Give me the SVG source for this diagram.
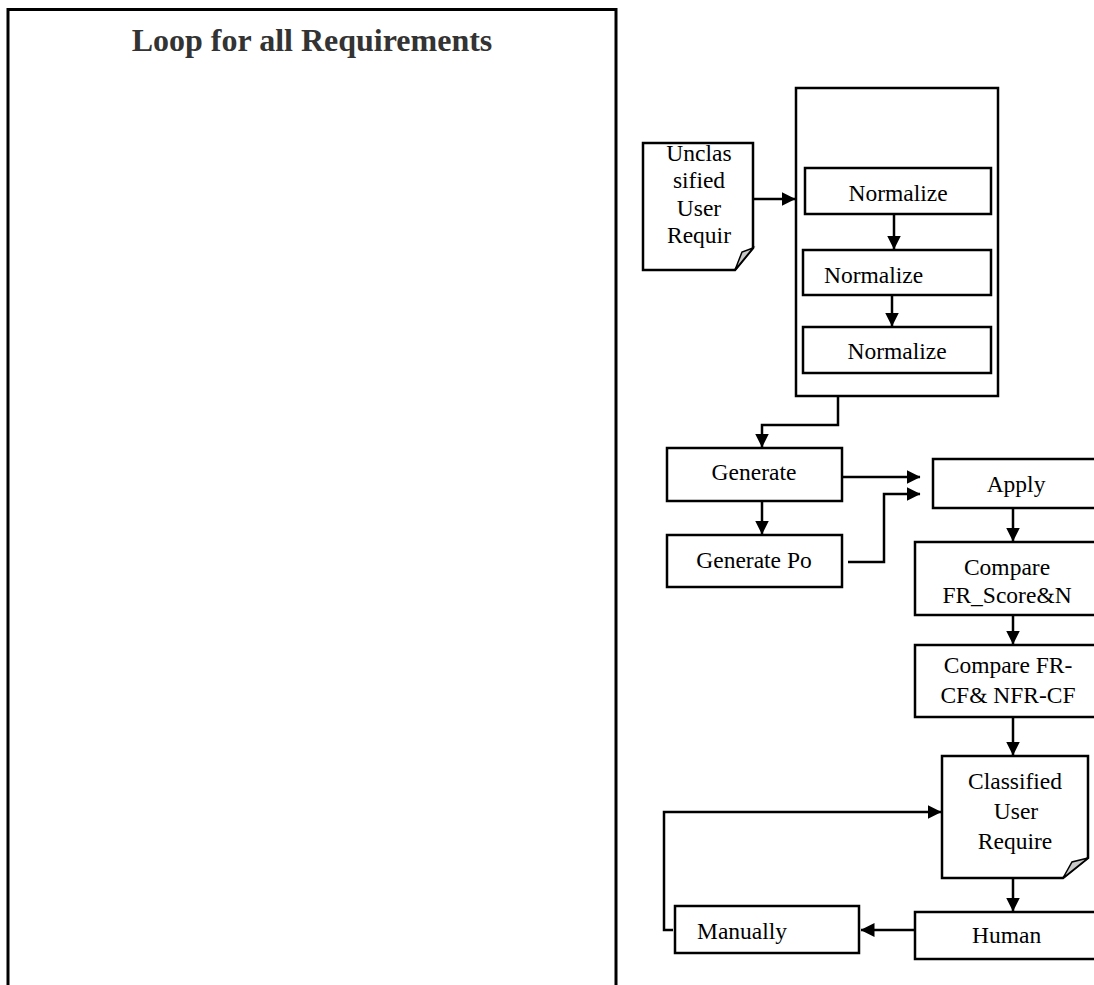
<svg xmlns="http://www.w3.org/2000/svg" width="1094" height="985" viewBox="0 0 1094 985">
<style>
.box{fill:#fff;stroke:#000;stroke-width:2.5}
.doc{fill:#fff;stroke:#000;stroke-width:2.5;stroke-linejoin:miter}
.flap{fill:#c8c8c8;stroke:#000;stroke-width:1.5}
.t{font-family:"Liberation Serif","Times New Roman",serif;font-size:23.5px;fill:#000}
.c{text-anchor:middle}
.ln{fill:none;stroke:#000;stroke-width:2.5}
.title{font-family:"Liberation Serif","Times New Roman",serif;font-size:32px;font-weight:bold;fill:#333;text-anchor:middle}
</style>
<defs>
<marker id="ah" markerWidth="14" markerHeight="14" refX="13.5" refY="7" orient="auto" markerUnits="userSpaceOnUse">
<path d="M0,0 L14,7 L0,14 Z" fill="#000"/>
</marker>
</defs>
<rect width="1094" height="985" fill="#fff"/>
<g id="loop-frame">
<path d="M8,995 V9.5 H616 V995" fill="none" stroke="#000" stroke-width="3"/>
<text class="title" x="312" y="51">Loop for all Requirements</text>
</g>
<g id="unclassified">
<path class="doc" d="M643,143 H753 V248 L735,270 H643 Z"/>
<path class="flap" d="M753,248 L742,252 L735,270 Z"/>
<text class="t c" x="699" y="161">Unclas</text>
<text class="t c" x="699" y="188">sified</text>
<text class="t c" x="699" y="216">User</text>
<text class="t c" x="699" y="243">Requir</text>
</g>
<g id="container"><rect class="box" x="796" y="88" width="202" height="308"/></g>
<g id="normalize1"><rect class="box" x="805" y="168" width="186" height="46"/><text class="t c" x="898" y="201">Normalize</text></g>
<g id="normalize2"><rect class="box" x="803" y="250" width="188" height="45"/><text class="t" x="824" y="283">Normalize</text></g>
<g id="normalize3"><rect class="box" x="803" y="327" width="188" height="46"/><text class="t c" x="897" y="359">Normalize</text></g>
<g id="generate"><rect class="box" x="667" y="448" width="175" height="53"/><text class="t c" x="754" y="480">Generate</text></g>
<g id="generate-po"><rect class="box" x="667" y="535" width="175" height="52"/><text class="t c" x="754" y="568">Generate Po</text></g>
<g id="apply"><rect class="box" x="933" y="459" width="180" height="49"/><text class="t c" x="1016" y="492">Apply</text></g>
<g id="compare1"><rect class="box" x="915" y="542" width="200" height="73"/><text class="t c" x="1007" y="575">Compare</text><text class="t c" x="1007" y="603">FR_Score&amp;N</text></g>
<g id="compare2"><rect class="box" x="915" y="645" width="200" height="72"/><text class="t c" x="1008" y="673">Compare FR-</text><text class="t c" x="1008" y="703">CF&amp; NFR-CF</text></g>
<g id="classified">
<path class="doc" d="M942,756 H1088 V858 L1063,878 H942 Z"/>
<path class="flap" d="M1088,858 L1072,862 L1063,878 Z"/>
<text class="t c" x="1015" y="789">Classified</text>
<text class="t c" x="1016" y="819">User</text>
<text class="t c" x="1015" y="849">Require</text>
</g>
<g id="human"><rect class="box" x="915" y="912" width="200" height="47"/><text class="t" x="972" y="943">Human</text></g>
<g id="manually"><rect class="box" x="675" y="906" width="184" height="47"/><text class="t" x="697" y="939">Manually</text></g>
<g id="connectors">
<path class="ln" d="M753,199 H795" marker-end="url(#ah)"/>
<path class="ln" d="M894,214 V249" marker-end="url(#ah)"/>
<path class="ln" d="M892,295 V326" marker-end="url(#ah)"/>
<path class="ln" d="M838,396 V425 H762 V447" marker-end="url(#ah)"/>
<path class="ln" d="M762,501 V534" marker-end="url(#ah)"/>
<path class="ln" d="M842,477 H920" marker-end="url(#ah)"/>
<path class="ln" d="M848,562 H884 V494 H920" marker-end="url(#ah)"/>
<path class="ln" d="M1013,508 V541" marker-end="url(#ah)"/>
<path class="ln" d="M1013,615 V644" marker-end="url(#ah)"/>
<path class="ln" d="M1013,717 V755" marker-end="url(#ah)"/>
<path class="ln" d="M1013,878 V911" marker-end="url(#ah)"/>
<path class="ln" d="M915,930 H861" marker-end="url(#ah)"/>
<path class="ln" d="M673,930 H664 V812 H941" marker-end="url(#ah)"/>
</g>
</svg>
